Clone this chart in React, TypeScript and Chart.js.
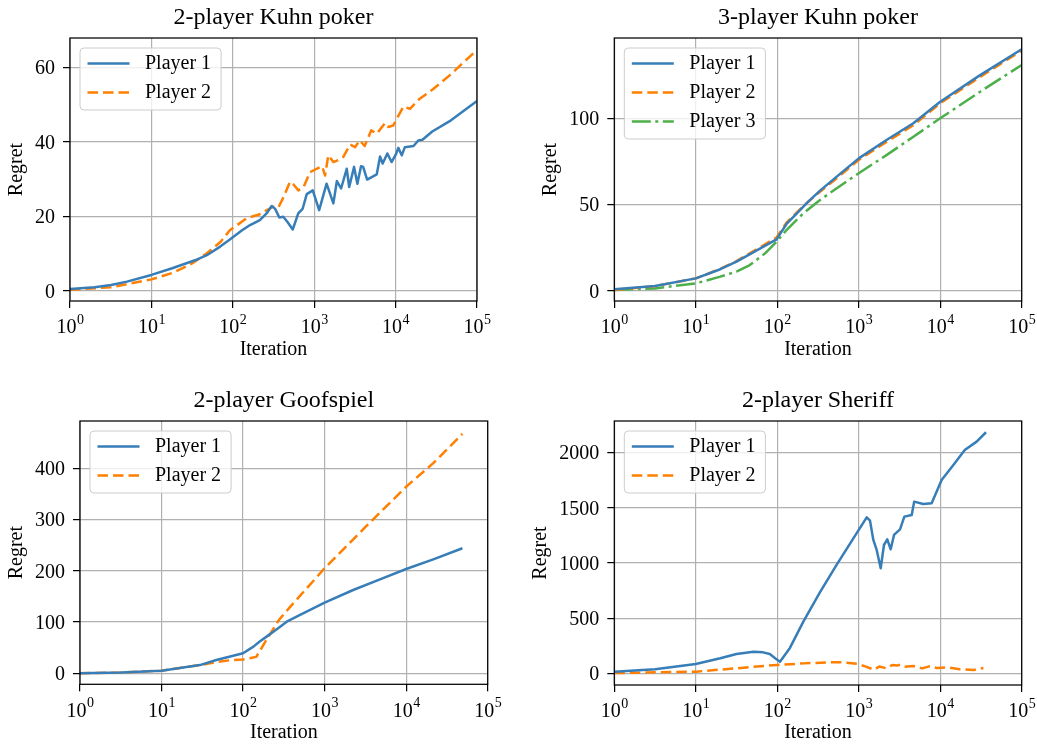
import React, { useEffect, useRef } from 'react';
import { Chart, registerables } from 'chart.js';

Chart.register(...registerables);

const FONT = "'Liberation Serif', 'Times New Roman', Times, serif";
const BLUE = '#377eb8';
const ORANGE = '#ff7f00';
const GREEN = '#4daf4a';

// ---------- tick labels ----------
const X_TICKS = [1, 10, 100, 1000, 10000, 100000];
const X_TICK_BASE = '10';
const X_TICK_EXPONENTS = ['0', '1', '2', '3', '4', '5'];
const KUHN2_Y_TICKS = [0, 20, 40, 60];
const KUHN3_Y_TICKS = [0, 50, 100];
const GOOF_Y_TICKS = [0, 100, 200, 300, 400];
const SHERIFF_Y_TICKS = [0, 500, 1000, 1500, 2000];

// ---------- 2-player Kuhn poker ----------
const kuhn2P1Iter = [1, 2, 3.2, 5, 10, 18, 35, 48, 70, 92, 130, 163, 215, 260, 300, 330, 373, 417, 470, 545, 637, 720, 810, 960, 1150, 1420, 1720, 1900, 2140, 2510, 2690, 3090, 3390, 3760, 3990, 4470, 5870, 6440, 6930, 7920, 8920, 10000, 10800, 11900, 13000, 16600, 19000, 21400, 28200, 45700, 100000];
const kuhn2P1 = [0.5, 1.0, 1.6, 2.5, 4.3, 6.1, 8.3, 9.6, 11.9, 13.8, 16.3, 17.7, 19.0, 20.8, 22.8, 22.1, 19.7, 19.9, 18.5, 16.5, 20.8, 22.0, 26.0, 27.0, 21.7, 28.8, 23.5, 29.5, 27.5, 32.8, 27.9, 33.3, 28.8, 33.5, 33.3, 29.9, 31.3, 36.1, 34.2, 36.9, 34.6, 36.5, 38.4, 36.4, 38.6, 38.9, 40.4, 40.6, 42.8, 45.5, 51.0];
const kuhn2P2Iter = [1, 3.2, 10, 18.6, 31.6, 48, 71, 92, 148, 215, 261, 315, 363, 420, 505, 560, 640, 740, 890, 1070, 1250, 1360, 1490, 1720, 2000, 2280, 2760, 3170, 3630, 4170, 5010, 5890, 7420, 8130, 9330, 12500, 15000, 19800, 28200, 45700, 100000];
const kuhn2P2 = [0.3, 1.0, 3.1, 4.9, 7.4, 10.1, 13.2, 16.3, 19.5, 20.6, 21.7, 22.6, 22.4, 25.2, 29.3, 28.5, 27.0, 27.9, 31.9, 32.8, 33.5, 31.0, 36.4, 34.6, 35.2, 36.0, 39.3, 38.6, 40.4, 38.9, 43.1, 42.2, 45.1, 44.0, 44.4, 49.5, 48.9, 51.6, 54.0, 57.8, 64.7];

// ---------- 3-player Kuhn poker ----------
const kuhn3Iter = [1, 3.16, 10, 20, 31.6, 50, 98, 130, 174, 240, 335, 537, 1000, 2190, 4680, 10000, 30900, 100000];
const kuhn3P1 = [1.0, 2.9, 7.3, 12.6, 17, 22.2, 29.9, 38.8, 45, 51.7, 58.1, 66.2, 76.8, 87.4, 97.1, 109.6, 125, 140];
const kuhn3P2 = [0.6, 2.8, 7.3, 12.8, 17.3, 22.8, 31, 39.6, 45.5, 51.7, 57.5, 65.3, 75.9, 86.3, 96, 108.7, 124, 139.2];
const kuhn3P3Iter = [1, 3.16, 10, 20, 31.6, 46, 71, 98, 130, 209, 335, 537, 1000, 2190, 4680, 10000, 30900, 100000];
const kuhn3P3 = [0.6, 1.5, 4.4, 8.3, 11.2, 15, 21.8, 28.5, 35.3, 45, 52.7, 59.5, 68.2, 78.7, 89.3, 100, 115.4, 130.9];

// ---------- 2-player Goofspiel ----------
const goofP1Iter = [1, 3.16, 10, 29.5, 47, 100, 134, 160, 200, 235, 290, 343, 500, 1000, 2240, 4770, 10000, 21500, 49000];
const goofP1 = [0, 1.5, 5.1, 16, 26, 39, 52, 62, 73, 81, 92, 100.7, 113.8, 137.8, 162.5, 183.4, 203.5, 222.4, 243.9];
const goofP2Iter = [1, 3.16, 10, 29.5, 47, 70, 100, 145, 200, 275, 380, 1000, 3240, 10000, 21500, 49000];
const goofP2 = [0, 1.5, 5, 16, 22, 25.5, 27, 32, 69, 104, 130, 205, 287, 364, 410, 467];

// ---------- 2-player Sheriff ----------
const sheriffP1Iter = [1, 3.16, 10, 20, 31.6, 51, 67, 81, 95, 108, 143, 209, 335, 537, 1000, 1253, 1375, 1510, 1660, 1860, 2040, 2240, 2466, 2710, 3210, 3630, 4470, 4790, 6170, 7850, 10400, 14500, 20000, 28000, 36500];
const sheriffP1 = [15, 36, 85, 136, 175, 196, 190, 175, 135, 105, 230, 468, 735, 985, 1300, 1414, 1384, 1209, 1118, 952, 1163, 1214, 1124, 1254, 1305, 1420, 1435, 1556, 1535, 1541, 1752, 1888, 2024, 2100, 2185];
const sheriffP2Iter = [1, 10, 31.6, 51, 98, 209, 447, 630, 955, 1200, 1550, 1780, 2190, 2570, 2950, 3240, 3630, 4680, 6030, 7590, 9120, 12000, 17400, 25700, 33900];
const sheriffP2 = [2, 15, 45, 60, 75, 90, 100, 100, 86, 63, 32, 62, 45, 75, 70, 78, 60, 66, 45, 66, 47, 54, 36, 30, 48];

// ---------- styles ----------
const SOLID: number[] = [];
const DASHED = [10.5, 5];
const DASHDOT = [19, 4.5, 3, 4.5];

type Series = { label: string; iter: number[]; values: number[]; color: string; dash: number[] };
type Panel = {
  title: string;
  series: Series[];
  yMin: number;
  yMax: number;
  yTicks: number[];
};

const PANELS: Panel[] = [
  {
    title: '2-player Kuhn poker',
    yMin: -2.7, yMax: 67.9, yTicks: KUHN2_Y_TICKS,
    series: [
      { label: 'Player 1', iter: kuhn2P1Iter, values: kuhn2P1, color: BLUE, dash: SOLID },
      { label: 'Player 2', iter: kuhn2P2Iter, values: kuhn2P2, color: ORANGE, dash: DASHED },
    ],
  },
  {
    title: '3-player Kuhn poker',
    yMin: -5.8, yMax: 146.5, yTicks: KUHN3_Y_TICKS,
    series: [
      { label: 'Player 1', iter: kuhn3Iter, values: kuhn3P1, color: BLUE, dash: SOLID },
      { label: 'Player 2', iter: kuhn3Iter, values: kuhn3P2, color: ORANGE, dash: DASHED },
      { label: 'Player 3', iter: kuhn3P3Iter, values: kuhn3P3, color: GREEN, dash: DASHDOT },
    ],
  },
  {
    title: '2-player Goofspiel',
    yMin: -21.5, yMax: 492.3, yTicks: GOOF_Y_TICKS,
    series: [
      { label: 'Player 1', iter: goofP1Iter, values: goofP1, color: BLUE, dash: SOLID },
      { label: 'Player 2', iter: goofP2Iter, values: goofP2, color: ORANGE, dash: DASHED },
    ],
  },
  {
    title: '2-player Sheriff',
    yMin: -106, yMax: 2287, yTicks: SHERIFF_Y_TICKS,
    series: [
      { label: 'Player 1', iter: sheriffP1Iter, values: sheriffP1, color: BLUE, dash: SOLID },
      { label: 'Player 2', iter: sheriffP2Iter, values: sheriffP2, color: ORANGE, dash: DASHED },
    ],
  },
];

// ---------- layout (page pixels) ----------
type Box = {
  left: number; top: number; width: number; height: number;
  areaL: number; areaT: number; areaR: number; areaB: number; // local chart area
  titleC: number; yTitleC: number; xTitleC: number; // local centres
};
const LAYOUT: Box[] = [
  { left: 0, top: 0, width: 518, height: 375, areaL: 70, areaT: 38, areaR: 477, areaB: 301, titleC: 18, yTitleC: 16.5, xTitleC: 349.3 },
  { left: 518, top: 0, width: 540, height: 375, areaL: 96.3, areaT: 38, areaR: 503.7, areaB: 301, titleC: 18, yTitleC: 32.5, xTitleC: 349.3 },
  { left: 0, top: 375, width: 518, height: 375, areaL: 80, areaT: 46, areaR: 487.7, areaB: 309.3, titleC: 26.2, yTitleC: 16.5, xTitleC: 357.6 },
  { left: 518, top: 375, width: 540, height: 375, areaL: 96.3, areaT: 46, areaR: 503.7, areaB: 310, titleC: 26.2, yTitleC: 22.5, xTitleC: 357.6 },
];

const framePlugin = {
  id: 'mplFrame',
  afterDatasetsDraw(chart: any) {
    const { ctx, chartArea: a } = chart;
    ctx.save();
    ctx.strokeStyle = '#000';
    ctx.lineWidth = 1.25;
    ctx.strokeRect(a.left, a.top, a.right - a.left, a.bottom - a.top);
    ctx.restore();
  },
};

// x tick labels "10" with a raised exponent, as matplotlib's mathtext draws them
const logTickPlugin = {
  id: 'logTicks',
  afterDraw(chart: any) {
    const { ctx, chartArea: a } = chart;
    const xs = chart.scales.x;
    ctx.save();
    ctx.fillStyle = '#000';
    ctx.textBaseline = 'alphabetic';
    ctx.textAlign = 'left';
    const baseY = a.bottom + 32.3;
    X_TICKS.forEach((v, i) => {
      const px = xs.getPixelForValue(v);
      ctx.font = `20px ${FONT}`;
      const wb = ctx.measureText(X_TICK_BASE).width;
      ctx.font = `14px ${FONT}`;
      const we = ctx.measureText(X_TICK_EXPONENTS[i]).width;
      const x0 = px - (wb + we) / 2;
      ctx.font = `20px ${FONT}`;
      ctx.fillText(X_TICK_BASE, x0, baseY);
      ctx.font = `14px ${FONT}`;
      ctx.fillText(X_TICK_EXPONENTS[i], x0 + wb + 0.5, baseY - 9.5);
    });
    ctx.restore();
  },
};

const legendPlugin = {
  id: 'mplLegend',
  afterDraw(chart: any) {
    const { ctx, chartArea: a } = chart;
    const ds = chart.data.datasets;
    ctx.save();
    ctx.font = `20px ${FONT}`;
    const textW = Math.max(...ds.map((d: any) => ctx.measureText(d.label).width));
    const x0 = a.left + 10;
    const y0 = a.top + 10;
    const w = 65 + textW + 10;
    const h = 15.5 + (ds.length - 1) * 29 + 17.5;
    const r = 4;
    ctx.beginPath();
    ctx.moveTo(x0 + r, y0);
    ctx.lineTo(x0 + w - r, y0);
    ctx.arcTo(x0 + w, y0, x0 + w, y0 + r, r);
    ctx.lineTo(x0 + w, y0 + h - r);
    ctx.arcTo(x0 + w, y0 + h, x0 + w - r, y0 + h, r);
    ctx.lineTo(x0 + r, y0 + h);
    ctx.arcTo(x0, y0 + h, x0, y0 + h - r, r);
    ctx.lineTo(x0, y0 + r);
    ctx.arcTo(x0, y0, x0 + r, y0, r);
    ctx.closePath();
    ctx.fillStyle = 'rgba(255,255,255,0.8)';
    ctx.fill();
    ctx.strokeStyle = '#cccccc';
    ctx.lineWidth = 1;
    ctx.stroke();
    ds.forEach((d: any, i: number) => {
      const cy = y0 + 15.5 + i * 29;
      ctx.beginPath();
      ctx.setLineDash(d.borderDash || []);
      ctx.strokeStyle = d.borderColor;
      ctx.lineWidth = d.borderWidth;
      ctx.lineCap = 'butt';
      ctx.moveTo(x0 + 7.5, cy);
      ctx.lineTo(x0 + 49.5, cy);
      ctx.stroke();
      ctx.setLineDash([]);
      ctx.fillStyle = '#000';
      ctx.textBaseline = 'middle';
      ctx.textAlign = 'left';
      ctx.fillText(d.label, x0 + 65, cy + 0.5);
    });
    ctx.restore();
  },
};

function makeConfig(p: Panel, b: Box): any {
  const tickFont = { family: FONT, size: 20, weight: 'normal' as const, lineHeight: 1.2 };
  const grid = { color: '#b0b0b0', lineWidth: 1.2, tickColor: '#000', tickLength: 7, tickWidth: 1.25 };
  return {
    type: 'line',
    data: {
      datasets: p.series.map((s) => ({
        label: s.label,
        data: s.iter.map((x, i) => ({ x, y: s.values[i] })),
        borderColor: s.color,
        backgroundColor: s.color,
        borderWidth: 2.5,
        borderDash: s.dash,
        borderCapStyle: 'butt',
        borderJoinStyle: 'round',
        pointRadius: 0,
        tension: 0,
        fill: false,
      })),
    },
    options: {
      responsive: false,
      animation: false,
      events: [],
      layout: { padding: { left: 0, top: 0, right: b.width - b.areaR, bottom: 0 } },
      plugins: {
        legend: { display: false },
        tooltip: { enabled: false },
        title: {
          display: true,
          text: p.title,
          fullSize: false,
          color: '#000',
          font: { family: FONT, size: 24, weight: 'normal', lineHeight: 1.2 },
          padding: { top: b.titleC - 14.4, bottom: b.areaT - b.titleC - 14.4 },
        },
      },
      scales: {
        x: {
          type: 'logarithmic',
          min: X_TICKS[0],
          max: X_TICKS[X_TICKS.length - 1],
          afterBuildTicks: (s: any) => {
            s.ticks = X_TICKS.map((v) => ({ value: v, major: true }));
          },
          afterFit: (s: any) => {
            s.height = b.height - b.areaB;
          },
          ticks: {
            display: false,
            autoSkip: false,
            maxRotation: 0,
            minRotation: 0,
          },
          grid,
          border: { display: false },
          title: {
            display: true,
            text: 'Iteration',
            color: '#000',
            font: tickFont,
            padding: { top: 0, bottom: b.height - b.xTitleC - 12 },
          },
        },
        y: {
          type: 'linear',
          min: p.yMin,
          max: p.yMax,
          afterBuildTicks: (s: any) => {
            s.ticks = p.yTicks.map((v) => ({ value: v }));
          },
          afterFit: (s: any) => {
            s.width = b.areaL;
          },
          ticks: {
            padding: 8,
            labelOffset: 1.5,
            color: '#000',
            font: tickFont,
            callback: (v: any) => String(v),
          },
          grid,
          border: { display: false },
          title: {
            display: true,
            text: 'Regret',
            color: '#000',
            font: tickFont,
            padding: { top: b.yTitleC - 12, bottom: 0 },
          },
        },
      },
    },
    plugins: [framePlugin, logTickPlugin, legendPlugin],
  };
}

function PanelChart({ panel, box }: { panel: Panel; box: Box }) {
  const ref = useRef<HTMLCanvasElement | null>(null);
  useEffect(() => {
    if (!ref.current) return;
    const chart = new Chart(ref.current, makeConfig(panel, box));
    return () => chart.destroy();
  }, [panel, box]);
  return (
    <canvas
      ref={ref}
      width={box.width}
      height={box.height}
      style={{ position: 'absolute', left: box.left, top: box.top, width: box.width, height: box.height }}
    />
  );
}

export default function App() {
  return (
    <div
      style={{
        position: 'absolute',
        left: 0,
        top: 0,
        width: 1037,
        height: 750,
        overflow: 'hidden',
        background: '#fff',
      }}
    >
      {PANELS.map((p, i) => (
        <PanelChart key={i} panel={p} box={LAYOUT[i]} />
      ))}
    </div>
  );
}
